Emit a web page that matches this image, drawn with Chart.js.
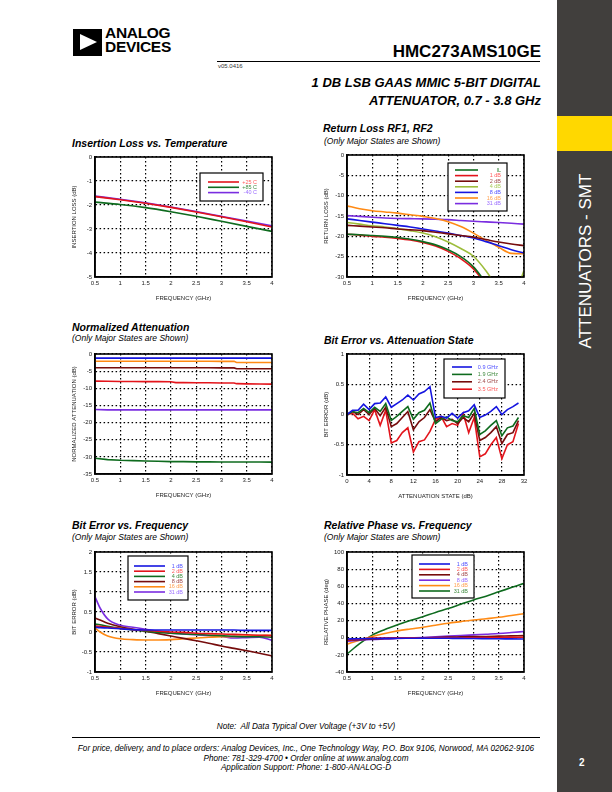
<!DOCTYPE html>
<html>
<head>
<meta charset="utf-8">
<script src="https://cdn.jsdelivr.net/npm/chart.js@4.4.1/dist/chart.umd.min.js"></script>
<style>
body { margin: 0; width: 612px; height: 792px; position: relative; background: #fff; overflow: hidden;
       font-family: 'Liberation Sans', Arial, sans-serif; color: #000; }
.abs { position: absolute; white-space: nowrap; }
.ttl { font-weight: bold; font-style: italic; font-size: 10.5px; line-height: 12px; }
.sub { font-style: italic; font-size: 8.5px; line-height: 10px; }
.foot { font-style: italic; font-size: 8.2px; line-height: 10px; width: 612px; left: 0; text-align: center; }
</style>
</head>
<body>
<!-- header -->
<div class="abs" style="left:73px;top:29px;width:29px;height:27px;background:#000;"></div>
<div class="abs" style="left:80px;top:34px;width:0;height:0;border-left:17px solid #fff;border-top:8.5px solid transparent;border-bottom:8.5px solid transparent;"></div>
<div class="abs" style="left:105px;top:26px;font-weight:bold;font-size:15.5px;line-height:14px;letter-spacing:-0.3px;">ANALOG<br>DEVICES</div>
<div class="abs" style="right:71px;top:43px;font-weight:bold;font-size:17px;line-height:18px;">HMC273AMS10GE</div>
<div class="abs" style="left:217px;top:61px;width:323px;height:1px;background:#000;"></div>
<div class="abs" style="left:218px;top:63px;font-size:6px;line-height:7px;color:#333;">v05.0416</div>
<div class="abs" style="right:71px;top:74px;font-weight:bold;font-style:italic;font-size:13px;line-height:18px;text-align:right;">1 DB LSB GAAS MMIC 5-BIT DIGITAL<br>ATTENUATOR, 0.7 - 3.8 GHz</div>

<!-- side band -->
<div class="abs" style="left:557px;top:0;width:55px;height:792px;background:#413f3d;"></div>
<div class="abs" style="left:557px;top:116px;width:55px;height:35px;background:#ffd800;"></div>
<div class="abs" style="left:495px;top:251px;width:182px;text-align:center;color:#fff;font-size:17px;line-height:20px;transform:rotate(-90deg);">ATTENUATORS - SMT</div>
<div class="abs" style="left:579px;top:757px;color:#fff;font-weight:bold;font-size:10px;">2</div>

<!-- chart titles -->
<div class="abs ttl" style="left:72px;top:137px;">Insertion Loss vs. Temperature</div>
<div class="abs ttl" style="left:323px;top:122px;">Return Loss RF1, RF2</div>
<div class="abs sub" style="left:324px;top:136px;">(Only Major States are Shown)</div>
<div class="abs ttl" style="left:72px;top:321px;">Normalized Attenuation</div>
<div class="abs sub" style="left:72px;top:333px;">(Only Major States are Shown)</div>
<div class="abs ttl" style="left:324px;top:334px;">Bit Error vs. Attenuation State</div>
<div class="abs ttl" style="left:72px;top:519px;">Bit Error vs. Frequency</div>
<div class="abs sub" style="left:72px;top:532px;">(Only Major States are Shown)</div>
<div class="abs ttl" style="left:324px;top:519px;">Relative Phase vs. Frequency</div>
<div class="abs sub" style="left:324px;top:532px;">(Only Major States are Shown)</div>

<canvas id="c1" class="abs"></canvas>
<canvas id="c2" class="abs"></canvas>
<canvas id="c3" class="abs"></canvas>
<canvas id="c4" class="abs"></canvas>
<canvas id="c5" class="abs"></canvas>
<canvas id="c6" class="abs"></canvas>

<!-- footer -->
<div class="abs foot" style="top:722px;">Note:&nbsp; All Data Typical Over Voltage (+3V to +5V)</div>
<div class="abs" style="left:72px;top:737px;width:468px;height:1px;background:#000;"></div>
<div class="abs foot" style="top:744px;">For price, delivery, and to place orders: Analog Devices, Inc., One Technology Way, P.O. Box 9106, Norwood, MA 02062-9106</div>
<div class="abs foot" style="top:754px;">Phone: 781-329-4700 &bull; Order online at www.analog.com</div>
<div class="abs foot" style="top:763px;">Application Support: Phone: 1-800-ANALOG-D</div>

<script>
// Insertion loss vs temperature
var ilFreq = [0.5, 1, 1.5, 2, 2.5, 3, 3.5, 4];
var ilP25 = [-1.65, -1.78, -1.93, -2.1, -2.29, -2.49, -2.7, -2.92];
var ilP85 = [-1.88, -1.98, -2.11, -2.28, -2.47, -2.68, -2.89, -3.1];
var ilM40 = [-1.63, -1.76, -1.91, -2.08, -2.27, -2.47, -2.67, -2.87];
var ilLabels = ['+25 C', '+85 C', '-40 C'];

// Return loss
var rlFreq = [0.5, 0.75, 1, 1.25, 1.5, 1.75, 2, 2.25, 2.5, 2.75, 3, 3.25, 3.5, 3.75, 4];
var rlIL = [-19.5, -19.6, -19.8, -20.0, -20.3, -20.7, -21.3, -22.1, -23.3, -25.0, -27.5, -31.5, -36, null, null];
var rl1 = [-19.5, -19.7, -20.0, -20.2, -20.5, -20.9, -21.5, -22.4, -23.7, -25.5, -28.0, -32, -37, null, null];
var rl2 = [-17.3, -17.5, -17.7, -17.9, -18.2, -18.4, -18.6, -19.0, -19.4, -19.8, -20.2, -20.8, -21.4, -21.9, -22.3];
var rl4 = [-16.6, -17.0, -17.4, -17.7, -18.1, -18.6, -19.2, -20.1, -21.4, -23.0, -24.9, -28.5, -33, -36, -28.4];
var rl8 = [-15.7, -16.1, -16.5, -16.9, -17.3, -17.7, -18.2, -18.7, -19.2, -19.8, -20.4, -21.3, -22.3, -23.3, -24.1];
var rl16 = [-12.5, -13.2, -13.7, -14.0, -14.3, -14.7, -15.1, -15.6, -16.4, -17.6, -19.2, -21.0, -22.7, -24.2, -24.3];
var rl31 = [-14.9, -15.1, -15.3, -15.5, -15.6, -15.65, -15.7, -15.8, -15.9, -16.1, -16.3, -16.45, -16.6, -16.8, -17.0];
var rlLabels = ['IL', '1 dB', '2 dB', '4 dB', '8 dB', '16 dB', '31 dB'];

// Normalized attenuation
var naFreq = [0.5, 0.75, 1, 1.25, 1.5, 1.75, 2, 2.1, 2.25, 2.5, 2.75, 3, 3.25, 3.3, 3.5, 3.75, 4];
var na1 = [-1.2, -1.15, -1.2, -1.2, -1.2, -1.2, -1.2, -1.2, -1.2, -1.2, -1.2, -1.2, -1.2, -1.2, -1.15, -1.2, -1.2];
var na2 = [-2.1, -2.1, -2.1, -2.1, -2.1, -2.1, -2.1, -2.1, -2.1, -2.1, -2.1, -2.15, -2.15, -2.5, -2.5, -2.5, -2.5];
var na4 = [-4.0, -4.0, -4.0, -4.0, -4.0, -4.0, -4.0, -4.0, -4.0, -4.0, -4.0, -4.05, -4.05, -4.3, -4.3, -4.3, -4.3];
var na8 = [-7.9, -7.95, -8.0, -8.0, -8.05, -8.05, -8.1, -8.35, -8.35, -8.4, -8.4, -8.45, -8.45, -8.65, -8.7, -8.75, -8.8];
var na16 = [-16.2, -16.3, -16.3, -16.3, -16.3, -16.3, -16.3, -16.3, -16.3, -16.3, -16.3, -16.3, -16.3, -16.3, -16.3, -16.3, -16.3];
var na31 = [-30.4, -30.8, -31.0, -31.1, -31.2, -31.3, -31.4, -31.4, -31.4, -31.45, -31.45, -31.5, -31.5, -31.5, -31.5, -31.5, -31.55];
var naLabels = ['1 dB', '2 dB', '4 dB', '8 dB', '16 dB', '31 dB'];

// Bit error vs attenuation state
var beStates = [0, 1, 2, 3, 4, 5, 6, 7, 8, 9, 10, 11, 12, 13, 14, 15, 16, 17, 18, 19, 20, 21, 22, 23, 24, 25, 26, 27, 28, 29, 30, 31];
var be09 = [0, 0.07, 0.07, 0.17, 0.08, 0.18, 0.19, 0.29, 0.12, 0.18, 0.24, 0.32, 0.24, 0.34, 0.38, 0.46, -0.05, -0.03, -0.06, 0.02, -0.06, 0.03, 0.06, 0.16, -0.05, -0.01, 0.05, 0.13, 0.0, 0.08, 0.13, 0.19];
var be19 = [0, 0.05, 0.03, 0.1, 0.03, 0.12, 0.05, 0.18, -0.1, -0.03, 0.05, 0.13, -0.08, 0.03, 0.07, 0.19, -0.15, -0.08, -0.04, -0.1, -0.12, -0.02, -0.05, 0.1, -0.33, -0.27, -0.18, -0.1, -0.35, -0.22, -0.19, -0.05];
var be24 = [0, 0.05, 0.0, 0.08, 0.0, 0.1, -0.02, 0.12, -0.2, -0.15, -0.05, 0.05, -0.25, -0.12, -0.05, 0.08, -0.12, -0.05, -0.1, -0.08, -0.15, -0.05, -0.12, 0.02, -0.43, -0.38, -0.3, -0.2, -0.48, -0.33, -0.3, -0.1];
var be35 = [0, 0.02, -0.07, -0.03, -0.1, 0.08, -0.18, 0.07, -0.47, -0.43, -0.3, -0.22, -0.62, -0.45, -0.42, -0.28, -0.08, -0.03, -0.2, -0.15, -0.18, 0.02, -0.3, -0.05, -0.7, -0.65, -0.5, -0.38, -0.73, -0.5, -0.45, -0.15];
var beLabels = ['0.9 GHz', '1.9 GHz', '2.4 GHz', '3.5 GHz'];

// Bit error vs frequency
var bfFreq = [0.5, 0.6, 0.75, 1, 1.25, 1.5, 1.75, 2, 2.25, 2.5, 2.75, 3, 3.25, 3.5, 3.75, 4];
var bf1 = [0.12, 0.11, 0.1, 0.08, 0.06, 0.05, 0.05, 0.05, 0.05, 0.05, 0.05, 0.05, 0.05, 0.04, 0.04, 0.04];
var bf2 = [0.15, 0.14, 0.12, 0.09, 0.06, 0.04, 0.02, 0.0, -0.01, -0.03, -0.04, -0.05, -0.06, -0.07, -0.08, -0.09];
var bf4 = [0.2, 0.18, 0.14, 0.09, 0.05, 0.02, -0.01, -0.03, -0.05, -0.06, -0.08, -0.09, -0.11, -0.12, -0.12, -0.13];
var bf8 = [0.35, 0.3, 0.22, 0.13, 0.07, 0.02, -0.04, -0.1, -0.16, -0.22, -0.28, -0.35, -0.41, -0.47, -0.53, -0.6];
var bf16 = [0.1, 0.0, -0.1, -0.17, -0.19, -0.2, -0.2, -0.19, -0.17, -0.15, -0.13, -0.12, -0.11, -0.1, -0.09, -0.08];
var bf31 = [0.88, 0.6, 0.33, 0.17, 0.12, 0.07, 0.02, -0.03, -0.05, -0.07, -0.09, -0.11, -0.15, -0.14, -0.13, -0.21];
var bfLabels = ['1 dB', '2 dB', '4 dB', '8 dB', '16 dB', '31 dB'];

// Relative phase
var rpFreq = [0.5, 0.75, 1, 1.25, 1.5, 1.75, 2, 2.25, 2.5, 2.75, 3, 3.25, 3.5, 3.75, 4];
var rp1 = [-1.5, -1.2, -1.0, -0.8, -0.7, -0.6, -0.5, -0.6, -0.7, -0.8, -1.0, -1.1, -1.2, -1.4, -1.5];
var rp2 = [-2.5, -1.5, -0.5, -0.3, -0.2, -0.1, 0.0, 0.0, 0.0, 0.0, 0.0, 0.2, 0.3, 0.4, 0.5];
var rp4 = [-3.0, -2.2, -1.5, -1.0, -0.5, -0.2, 0.0, 0.3, 0.7, 1.0, 1.3, 1.5, 1.8, 2.1, 2.4];
var rp8 = [-4.4, -3.0, -2.0, -1.5, -1.0, -0.4, 0.2, 1.0, 1.8, 2.5, 3.3, 4.1, 4.9, 6.0, 7.2];
var rp16 = [-7.5, -3.0, 1.4, 5.0, 8.0, 10.2, 12.2, 14.6, 16.9, 18.8, 20.7, 22.2, 23.8, 26.0, 28.0];
var rp31 = [-19, -7, 3, 9.5, 15, 20, 24.5, 29.5, 34, 39, 44, 48.5, 53.5, 58.5, 63.5];
var rpLabels = ['1 dB', '2 dB', '4 dB', '8 dB', '16 dB', '31 dB'];

var GREEN = '#0e6b1e', RED = '#e3141b', PURPLE = '#7a2de0', BLUE = '#1515e0',
    DKRED = '#760c0c', YGREEN = '#9dbd3c', ORANGE = '#ff8a14';
var GREEN_T = '#3f8a3f', RED_T = '#ff5a5a', PURPLE_T = '#9a6cff', BLUE_T = '#4f4fff',
    DKRED_T = '#a04a4a', YGREEN_T = '#a9c95a', ORANGE_T = '#ffa050';

// frame around plot + boxed legend inside plot area
var boxLegend = {
    id: 'boxLegend',
    afterDatasetsDraw: function (chart, args, opts) {
        var a = chart.chartArea, c = chart.ctx;
        c.save();
        c.lineWidth = 1.6;
        c.strokeStyle = '#000';
        c.strokeRect(a.left, a.top, a.right - a.left, a.bottom - a.top);
        if (opts.box) {
            var bx = a.left + opts.box[0], by = a.top + opts.box[1];
            c.fillStyle = '#fff';
            c.fillRect(bx, by, opts.box[2], opts.box[3]);
            c.lineWidth = 1.2;
            c.strokeRect(bx, by, opts.box[2], opts.box[3]);
            c.font = '5.5px "Liberation Sans", Arial, sans-serif';
            c.textAlign = 'right';
            c.textBaseline = 'middle';
            chart.data.datasets.forEach(function (ds, i) {
                var y = by + opts.first + i * opts.gap;
                c.strokeStyle = ds.borderColor;
                c.lineWidth = 1.6;
                c.beginPath();
                c.moveTo(bx + opts.line[0], y);
                c.lineTo(bx + opts.line[1], y);
                c.stroke();
                c.fillStyle = ds.textColor;
                c.fillText(ds.label, bx + opts.textRight, y);
            });
        }
        c.restore();
    }
};

function series(labels, xs, ys, colors, textColors, tension) {
    return ys.map(function (arr, i) {
        return {
            label: labels[i],
            data: arr.map(function (v, j) { return { x: xs[j], y: v }; }),
            borderColor: colors[i],
            textColor: textColors[i],
            borderWidth: 1.6,
            pointRadius: 0,
            tension: tension,
            cubicInterpolationMode: tension ? 'monotone' : 'default',
            spanGaps: false
        };
    });
}

function axis(min, max, step, title, isX) {
    return {
        type: 'linear',
        min: min,
        max: max,
        ticks: { stepSize: step, color: '#222', font: { size: 6 }, padding: 3, maxRotation: 0, autoSkip: false,
                 callback: function (v) { return String(v); } },
        grid: { color: '#000', lineWidth: 1.2, drawTicks: false },
        border: { dash: [1.5, 2.5], color: '#000', width: 1.6 },
        title: { display: true, text: title, color: '#222', font: { size: 6 },
                 padding: isX ? { top: 0, bottom: 7 } : { top: 12, bottom: 0 } },
        afterFit: function (s) { if (isX) { s.height = 32; } else { s.width = 36; } }
    };
}

function makeChart(id, plot, datasets, xAx, yAx, legend) {
    var cv = document.getElementById(id);
    cv.width = plot.w + 48;
    cv.height = plot.h + 40;
    cv.style.left = (plot.l - 36) + 'px';
    cv.style.top = (plot.t - 8) + 'px';
    new Chart(cv, {
        type: 'line',
        data: { datasets: datasets },
        options: {
            responsive: false,
            animation: false,
            devicePixelRatio: 1,
            layout: { padding: { left: 0, top: 8, right: 12, bottom: 0 } },
            scales: { x: xAx, y: yAx },
            plugins: { legend: { display: false }, tooltip: { enabled: false }, boxLegend: legend || {} }
        },
        plugins: [boxLegend]
    });
}

Chart.defaults.font.family = '"Liberation Sans", Arial, sans-serif';

makeChart('c1', { l: 95, t: 157, w: 177, h: 120 },
    series(ilLabels, ilFreq, [ilP25, ilP85, ilM40], [RED, GREEN, PURPLE], [RED_T, GREEN_T, PURPLE_T], 0.4),
    axis(0.5, 4, 0.5, 'FREQUENCY (GHz)', true), axis(-5, 0, 1, 'INSERTION LOSS (dB)', false),
    { box: [105, 16, 63, 28], first: 9, gap: 5.3, line: [8, 39], textRight: 57 });

makeChart('c2', { l: 347, t: 155, w: 177, h: 122 },
    series(rlLabels, rlFreq, [rlIL, rl1, rl2, rl4, rl8, rl16, rl31],
        [GREEN, RED, DKRED, YGREEN, BLUE, ORANGE, PURPLE],
        [GREEN_T, RED_T, DKRED_T, YGREEN_T, BLUE_T, ORANGE_T, PURPLE_T], 0.4),
    axis(0.5, 4, 0.5, 'FREQUENCY (GHz)', true), axis(-30, 0, 5, 'RETURN LOSS (dB)', false),
    { box: [101, 8, 59, 48], first: 7, gap: 5.6, line: [7, 30], textRight: 53 });

makeChart('c3', { l: 95, t: 354, w: 177, h: 120 },
    series(naLabels, naFreq, [na1, na2, na4, na8, na16, na31],
        [BLUE, ORANGE, DKRED, RED, PURPLE, GREEN],
        [BLUE_T, ORANGE_T, DKRED_T, RED_T, PURPLE_T, GREEN_T], 0),
    axis(0.5, 4, 0.5, 'FREQUENCY (GHz)', true), axis(-35, 0, 5, 'NORMALIZED ATTENUATION (dB)', false),
    null);

makeChart('c4', { l: 347, t: 354, w: 177, h: 121 },
    series(beLabels, beStates, [be09, be19, be24, be35], [BLUE, GREEN, DKRED, RED],
        [BLUE_T, GREEN_T, DKRED_T, RED_T], 0),
    axis(0, 32, 4, 'ATTENUATION STATE (dB)', true), axis(-1, 1, 0.5, 'BIT ERROR (dB)', false),
    { box: [97, 5, 61, 39], first: 8, gap: 7.4, line: [8, 28], textRight: 54 });

makeChart('c5', { l: 95, t: 552, w: 177, h: 120 },
    series(bfLabels, bfFreq, [bf1, bf2, bf4, bf8, bf16, bf31],
        [BLUE, RED, GREEN, DKRED, ORANGE, PURPLE],
        [BLUE_T, RED_T, GREEN_T, DKRED_T, ORANGE_T, PURPLE_T], 0.4),
    axis(0.5, 4, 0.5, 'FREQUENCY (GHz)', true), axis(-1, 2, 0.5, 'BIT ERROR (dB)', false),
    { box: [33, 4, 60, 44], first: 10, gap: 5.2, line: [6, 37], textRight: 55 });

makeChart('c6', { l: 347, t: 552, w: 177, h: 120 },
    series(rpLabels, rpFreq, [rp1, rp2, rp4, rp8, rp16, rp31],
        [BLUE, RED, DKRED, PURPLE, ORANGE, GREEN],
        [BLUE_T, RED_T, DKRED_T, PURPLE_T, ORANGE_T, GREEN_T], 0.4),
    axis(0.5, 4, 0.5, 'FREQUENCY (GHz)', true), axis(-40, 100, 20, 'RELATIVE PHASE (deg)', false),
    { box: [65, 3, 62, 43], first: 9, gap: 5.4, line: [7, 38], textRight: 56 });
</script>
</body>
</html>
